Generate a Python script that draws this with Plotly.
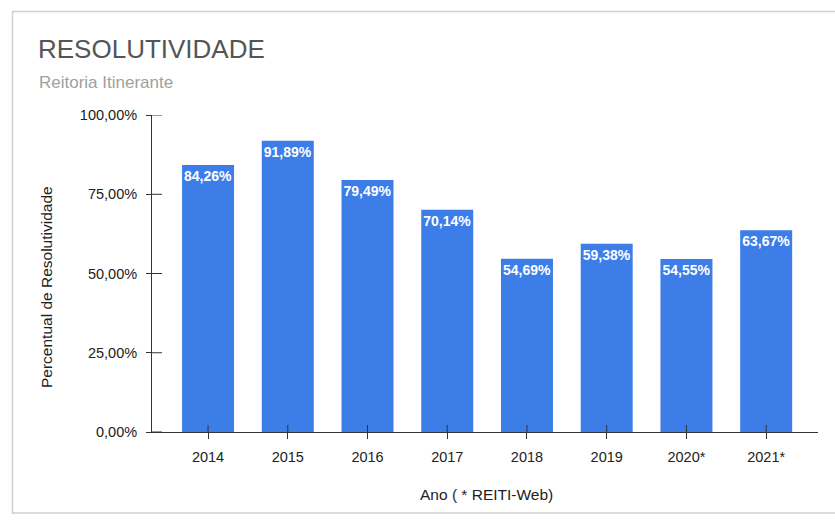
import plotly.graph_objects as go

# Resolutividade por ano (Reitoria Itinerante)
anos = ["2014", "2015", "2016", "2017", "2018", "2019", "2020*", "2021*"]
percentuais = [84.26, 91.89, 79.49, 70.14, 54.69, 59.38, 54.55, 63.67]
y_ticks = [0, 25, 50, 75, 100]
y_tick_labels = ["0,00%", "25,00%", "50,00%", "75,00%", "100,00%"]

FONT = "Liberation Sans, Arial, sans-serif"
BAR_COLOR = "#3c7de8"
AXIS_COLOR = "#333333"

W, H = 835, 526
L, R, T, B = 152, 17, 115, 94
PW, PH = W - L - R, H - T - B
X_RANGE = [-0.703, 7.65]


def px_to_paper_x(px):
    return (px - L) / PW


def px_to_paper_y(py):
    return (H - B - py) / PH


def fmt_pct(v):
    return f"{v:.2f}".replace(".", ",") + "%"


fig = go.Figure(
    go.Bar(
        x=list(range(len(anos))),
        y=percentuais,
        width=0.652,
        marker=dict(color=BAR_COLOR, line=dict(width=0)),
        text=[fmt_pct(v) for v in percentuais],
        textposition="inside",
        insidetextanchor="end",
        constraintext="none",
        textangle=0,
        textfont=dict(family=FONT, size=14, color="white", weight="bold"),
        hoverinfo="skip",
    )
)

shapes = []
# card frame around the chart
shapes.append(dict(
    type="rect", xref="paper", yref="paper",
    x0=px_to_paper_x(12.5), x1=px_to_paper_x(850),
    y0=px_to_paper_y(513), y1=px_to_paper_y(11.5),
    line=dict(color="#cfcfcf", width=1.5), fillcolor="rgba(0,0,0,0)", layer="below",
))
# inner halves of the y-axis ticks (ticks cross the axis line)
for v in y_ticks:
    shapes.append(dict(
        type="line", xref="x domain", yref="y",
        x0=0, x1=10 / PW, y0=v, y1=v,
        line=dict(color=AXIS_COLOR, width=1),
    ))
# inner halves of the x-axis ticks
for i in range(len(anos)):
    xd = (i - X_RANGE[0]) / (X_RANGE[1] - X_RANGE[0])
    shapes.append(dict(
        type="line", xref="x domain", yref="y domain",
        x0=xd, x1=xd, y0=0, y1=7 / PH,
        line=dict(color=AXIS_COLOR, width=1),
    ))

annotations = [
    dict(text="RESOLUTIVIDADE", xref="paper", yref="paper",
         x=px_to_paper_x(36), y=px_to_paper_y(49), xanchor="left", yanchor="middle",
         showarrow=False, font=dict(family=FONT, size=26, color="#555555")),
    dict(text="Reitoria Itinerante", xref="paper", yref="paper",
         x=px_to_paper_x(37), y=px_to_paper_y(82), xanchor="left", yanchor="middle",
         showarrow=False, font=dict(family=FONT, size=17, color="#a0a0a0")),
    dict(text="Percentual de Resolutividade", xref="paper", yref="paper",
         x=px_to_paper_x(46), y=px_to_paper_y(287), xanchor="center", yanchor="middle",
         textangle=-90, showarrow=False, font=dict(family=FONT, size=15.5, color="#222222")),
    dict(text="Ano ( * REITI-Web)", xref="paper", yref="paper",
         x=px_to_paper_x(486), y=px_to_paper_y(494), xanchor="center", yanchor="middle",
         showarrow=False, font=dict(family=FONT, size=15.5, color="#222222")),
]

fig.update_layout(
    width=W, height=H,
    margin=dict(l=L, r=R, t=T, b=B, pad=0),
    paper_bgcolor="white", plot_bgcolor="white",
    showlegend=False,
    shapes=shapes,
    annotations=annotations,
    xaxis=dict(
        range=X_RANGE,
        tickmode="array", tickvals=list(range(len(anos))), ticktext=anos,
        showline=True, linecolor=AXIS_COLOR, linewidth=1,
        ticks="outside", ticklen=6, tickcolor=AXIS_COLOR, tickwidth=1,
        showgrid=False, zeroline=False, fixedrange=True,
        tickfont=dict(family=FONT, size=14.5, color="#222222"),
        ticklabelstandoff=6,
    ),
    yaxis=dict(
        range=[0, 100],
        tickmode="array", tickvals=y_ticks, ticktext=y_tick_labels,
        showline=True, linecolor=AXIS_COLOR, linewidth=1,
        ticks="outside", ticklen=5, tickcolor=AXIS_COLOR, tickwidth=1,
        showgrid=False, zeroline=False, fixedrange=True,
        tickfont=dict(family=FONT, size=14.5, color="#222222"),
        ticklabelstandoff=6,
    ),
    font=dict(family=FONT),
)

fig.write_html("out.html", config={"displayModeBar": False})
